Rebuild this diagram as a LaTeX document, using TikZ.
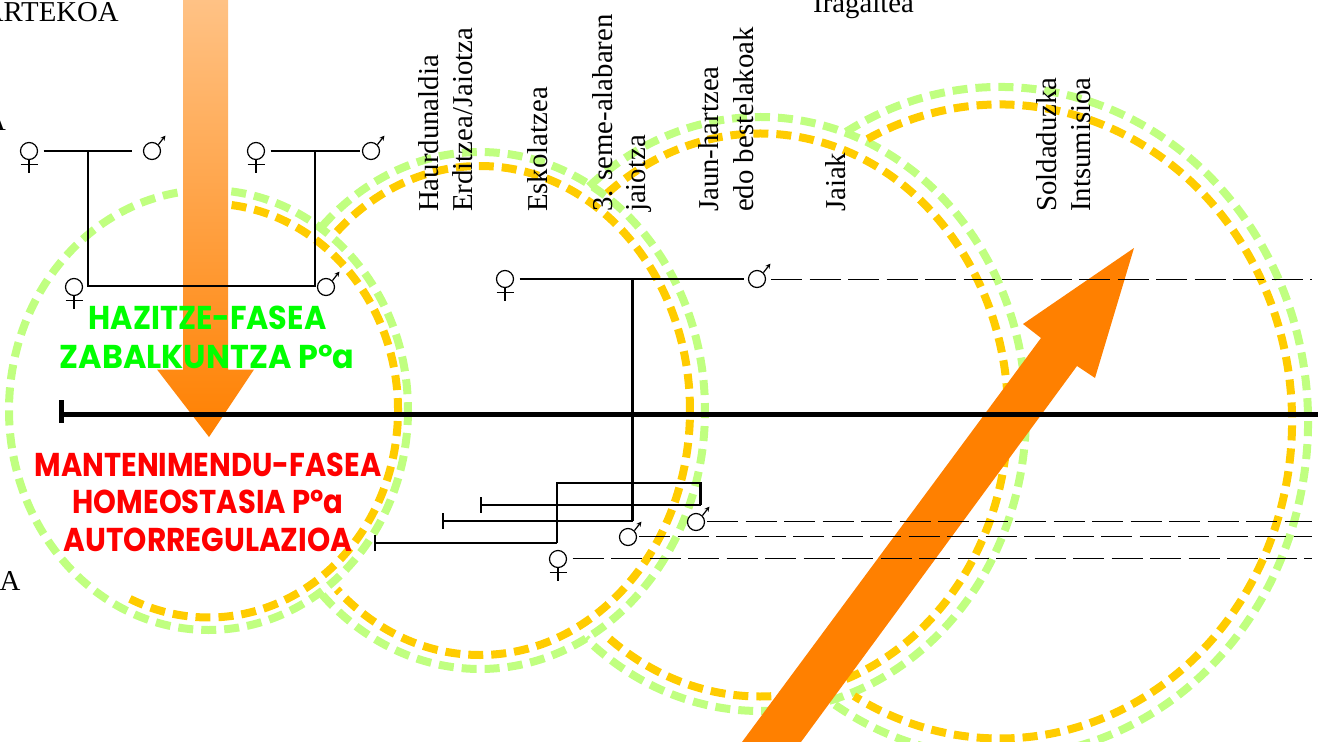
\documentclass[tikz,border=0pt]{standalone}
\usepackage{fontspec}
\setmainfont{Liberation Serif}
\newfontfamily\phasefont{Poppins}
\usetikzlibrary{arrows.meta}
\definecolor{ringgreen}{HTML}{C0FF80}
\definecolor{ringgold}{HTML}{FFCC00}
\definecolor{bigorange}{HTML}{FF8000}
\definecolor{shafttop}{HTML}{FFC285}
\tikzset{
  ring/.style={line width=8pt,dash pattern=on 15pt off 8pt},
  rg/.style={ring,draw=ringgreen},
  ro/.style={ring,draw=ringgold},
  sym/.style={circle,draw,line width=1.2pt,minimum size=17pt,inner sep=0pt},
  symline/.style={line width=1.2pt},
  kin/.style={line width=2.5pt,line join=miter},
  thin kin/.style={line width=1.2pt},
  trail/.style={line width=1pt,dash pattern=on 31pt off 7.5pt},
  label/.style={font=\fontsize{28.8}{30}\selectfont,inner sep=0pt,text=black},
  vlabel/.style={label,rotate=90,anchor=base west},
  phase/.style={font=\phasefont\bfseries\fontsize{30}{32}\selectfont,inner sep=0pt,anchor=base},
}
\newcommand{\Fem}[3]{%
  \node[sym] (#1) at (#2,#3) {};
  \draw[symline] (#1.south) -- ++(0,12.5);
  \draw[symline] (#1.south) ++(-8.5,4) -- ++(17,0);
}
\newcommand{\Mal}[3]{%
  \node[sym] (#1) at (#2,#3) {};
  \draw[symline,-{Stealth[length=5pt,width=5pt]}] (#1.north east) -- ++(7,-9);
}
% centre x, centre y, x radius, y radius, start angle, end angle, style
\newcommand{\RingArc}[7]{%
  \draw[#7] (#1,#2) ++(#5:#3pt and #4pt) arc [start angle=#5,end angle=#6,x radius=#3pt,y radius=#4pt];
}
\begin{document}
\begin{tikzpicture}[x=1pt,y=1pt,yscale=-1]
\useasboundingbox (0,0) rectangle (1318,742);
\clip (0,0) rectangle (1318,742);
% rings
\draw[rg] (208.5,410) ellipse [x radius=199.5pt,y radius=220pt];
\RingArc{208.5}{410.5}{189.5}{207}{-83}{114.5}{ro}
\RingArc{480}{410.5}{225}{258.5}{-134.4}{136}{rg}
\RingArc{480}{410.5}{210}{244.5}{-133}{133}{ro}
\RingArc{760}{414}{266}{297}{-130}{131}{rg}
\RingArc{760}{415}{248}{281.5}{-128}{128}{ro}
\RingArc{1000}{422}{308}{335}{-120}{122.5}{rg}
\RingArc{1000}{421.5}{292}{317}{-117}{120}{ro}
% arrows
\path[top color=shafttop,bottom color=bigorange]
  (183,0) -- (228,0) -- (228,369.5) -- (254,369.5) -- (209,437) -- (157,369.5) -- (183,369.5) -- cycle;
\fill[bigorange] (1134,248) -- (1095,378) -- (1077,366) -- (801,742) -- (742,742) -- (1041,338) -- (1023,324) -- cycle;
% clipped texts
\node[label,anchor=base east] (t1) at (119,21) {ARTEKOA};
\node[label,anchor=base east] (t2) at (6,130) {A};
\node[label,anchor=base east] (t3) at (20.5,590) {A};
\node[label,anchor=base west] (t4) at (813,12) {Iragaitea};
\node[vlabel] (v1) at (438,212) {Haurdunaldia};
\node[vlabel] (v2) at (472,212) {Erditzea/Jaiotza};
\node[vlabel] (v3) at (547,212) {Eskolatzea};
\node[vlabel] (v4) at (612,212) {3. seme-alabaren};
\node[vlabel] (v5) at (645,212) {jaiotza};
\node[vlabel] (v6) at (718,212) {Jaun-hartzea};
\node[vlabel] (v7) at (753,212) {edo bestelakoak};
\node[vlabel] (v8) at (845,212) {Jaiak};
\node[vlabel] (v9) at (1056,212) {Soldaduzka};
\node[vlabel] (v10) at (1090,212) {Intsumisioa};
% phase labels
\node[phase,text=green] (p1) at (207.5,329) {\scalebox{1.01}[1.1]{HAZITZE-FASEA}};
\node[phase,text=green] (p2) at (207,368) {\scalebox{1.06}[1.1]{ZABALKUNTZA Pºa}};
\node[phase,text=red] (p3) at (208,476) {\scalebox{.964}[1.1]{MANTENIMENDU-FASEA}};
\node[phase,text=red] (p4) at (208,513) {\scalebox{.968}[1.1]{HOMEOSTASIA Pºa}};
\node[phase,text=red] (p5) at (208,551) {\scalebox{.986}[1.1]{AUTORREGULAZIOA}};
% time axis
\coordinate (axL) at (61,414.5);
\coordinate (axR) at (1318,414.5);
\coordinate (axT) at (61,400);
\coordinate (axB) at (61,423);
\draw[line width=5.5pt] (axL) -- (axR);
\draw[line width=5pt] (axT) -- (axB);
% genealogies
\Fem{fa}{29}{151}
\Mal{ma}{152}{151}
\Fem{fb}{256}{151}
\Mal{mb}{371}{151}
\Fem{fc}{74}{287}
\Mal{mc}{326}{287}
\coordinate (ja) at (88,150.5);
\coordinate (jb) at (315,150.5);
\coordinate (jc) at (88,286);
\coordinate (jd) at (315,286);
\draw[kin,shorten <=5.5pt,shorten >=10.5pt] (fa) -- (ma);
\draw[kin,shorten <=5.5pt,shorten >=2pt] (fb) -- (mb);
\draw[kin] (ja) -- (jc) -- (jd) -- (jb);
% central family
\Fem{fd}{505}{279}
\Mal{md}{757}{279}
\Mal{me}{628}{537}
\Mal{mf}{696}{522}
\Fem{fe}{558}{559}
\draw[kin,shorten <=5.5pt,shorten >=3.5pt] (fd) -- (md);
\coordinate (jv) at (632.5,279);
\coordinate (kv) at (632.5,521);
\draw[kin] (jv) -- (kv);
\coordinate (a1) at (443,521);
\coordinate (a1t) at (443,513);
\coordinate (a1b) at (443,528.5);
\draw[thin kin] (kv) -- (a1);
\draw[thin kin] (a1t) -- (a1b);
\coordinate (r1) at (557,543);
\coordinate (r2) at (557,483);
\coordinate (r3) at (700.5,483);
\coordinate (r4) at (700.5,505);
\draw[kin] (r1) -- (r2) -- (r3) -- (r4);
\coordinate (a2) at (481,505);
\coordinate (a2t) at (481,497);
\coordinate (a2b) at (481,513);
\draw[thin kin] (r4) -- (a2);
\draw[thin kin] (a2t) -- (a2b);
\coordinate (a3) at (375,543);
\coordinate (a3t) at (375,535);
\coordinate (a3b) at (375,551);
\draw[thin kin] (r1) -- (a3);
\draw[thin kin] (a3t) -- (a3b);
% life-lines
\coordinate (e1) at (1312,279);
\coordinate (e2) at (1312,521.5);
\coordinate (e3) at (1312,536);
\coordinate (e4) at (1312,558.5);
\draw[trail] (md.east |- e1) ++(5,0) -- (e1);
\draw[trail] (mf.east |- e2) ++(2,0) -- (e2);
\draw[trail] (me.east |- e3) ++(2,0) -- (e3);
\draw[trail] (fe.east |- e4) ++(5.5,0) -- (e4);
\end{tikzpicture}
\end{document}
